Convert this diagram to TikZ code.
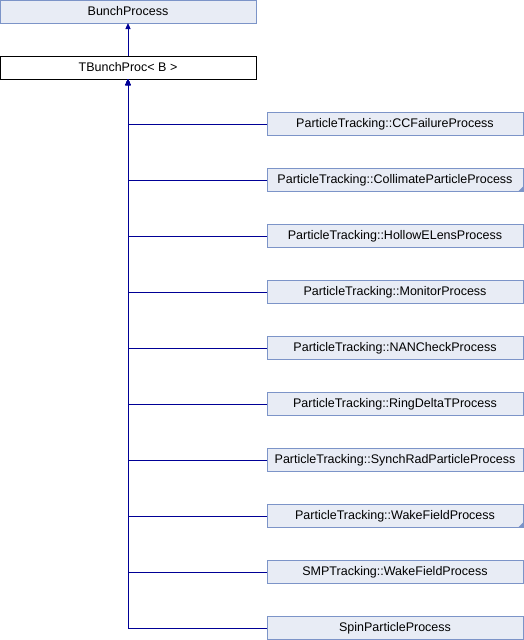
\documentclass[tikz,border=0pt]{standalone}
\usepackage{fontspec}
\setmainfont{Liberation Sans}
\usepackage{xcolor}
\usetikzlibrary{arrows.meta,positioning}

\definecolor{boxfill}{RGB}{232,236,245}
\definecolor{boxline}{RGB}{124,148,200}
\definecolor{edgeblue}{RGB}{0,0,150}

\begin{document}
\begin{tikzpicture}[
  node distance=33pt,
  every node/.style={minimum width=256pt, minimum height=23pt, inner sep=0pt,
    outer sep=0pt, font=\fontsize{12.5}{14}\selectfont},
  cls/.style={draw=boxline, fill=boxfill, line width=1pt},
  tmpl/.style={draw=black, fill=white, line width=1pt},
  more/.style={path picture={\fill[boxline] (path picture bounding box.south east)
    -- ++(-5pt,0) -- ++(5pt,5pt) -- cycle;}},
  arr/.style={-{Triangle[length=6pt, width=5pt]}, edgeblue, line width=1pt}
]
  \useasboundingbox (0,0) rectangle (524pt,-640pt);

  \node[cls] (bunch) at (128pt,-11.5pt) {BunchProcess};
  \node[tmpl, below=of bunch] (tbunch) {TBunchProc< B >};

  \node[cls, anchor=north west] (ccfail) at (267pt,-112.5pt) {ParticleTracking::CCFailureProcess};
  \node[cls, more, below=of ccfail] (collim) {ParticleTracking::CollimateParticleProcess};
  \node[cls, below=of collim] (hollow) {ParticleTracking::HollowELensProcess};
  \node[cls, below=of hollow] (monitor) {ParticleTracking::MonitorProcess};
  \node[cls, below=of monitor] (nancheck) {ParticleTracking::NANCheckProcess};
  \node[cls, below=of nancheck] (ringdt) {ParticleTracking::RingDeltaTProcess};
  \node[cls, below=of ringdt] (synchrad) {ParticleTracking::SynchRadParticleProcess};
  \node[cls, more, below=of synchrad] (wakept) {ParticleTracking::WakeFieldProcess};
  \node[cls, below=of wakept] (wakesmp) {SMPTracking::WakeFieldProcess};
  \node[cls, below=of wakesmp] (spin) {SpinParticleProcess};

  \draw[arr] (tbunch) -- (bunch);
  \draw[arr] (ccfail.west) -| (tbunch.south);
  \draw[arr] (collim.west) -| (tbunch.south);
  \draw[arr] (hollow.west) -| (tbunch.south);
  \draw[arr] (monitor.west) -| (tbunch.south);
  \draw[arr] (nancheck.west) -| (tbunch.south);
  \draw[arr] (ringdt.west) -| (tbunch.south);
  \draw[arr] (synchrad.west) -| (tbunch.south);
  \draw[arr] (wakept.west) -| (tbunch.south);
  \draw[arr] (wakesmp.west) -| (tbunch.south);
  \draw[arr] (spin.west) -| (tbunch.south);
\end{tikzpicture}
\end{document}
